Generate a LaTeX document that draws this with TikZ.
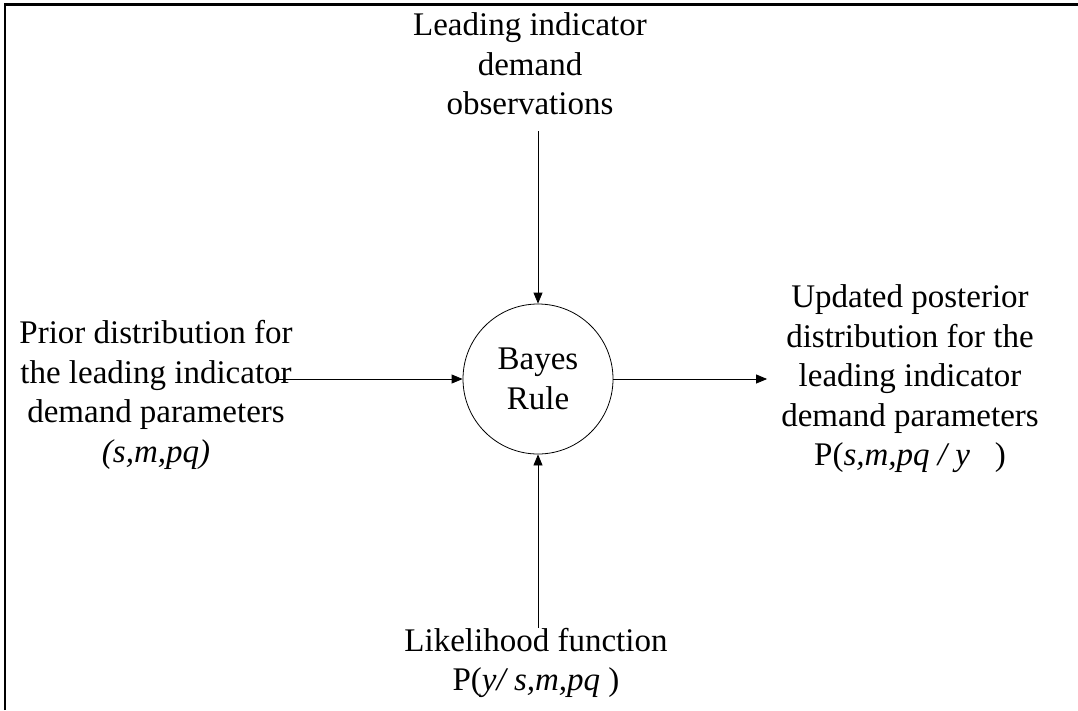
\documentclass[tikz,border=0pt]{standalone}
\usepackage{fontspec}
\setmainfont{Liberation Serif}
\usetikzlibrary{arrows.meta,positioning}
\tikzset{
  labeltext/.style={
    align=center,
    inner sep=4pt,
    font=\fontsize{33}{39.5}\selectfont
  },
  rulecircle/.style={
    circle,
    draw=black,
    line width=0.8pt,
    minimum size=150pt,
    inner sep=0pt,
    align=center,
    font=\fontsize{33}{39.5}\selectfont
  },
  arrow/.style={
    -{Triangle[length=11pt,width=9pt]},
    line width=0.8pt,
    draw=black
  }
}

\begin{document}
\begin{tikzpicture}[x=1pt,y=-1pt]
\useasboundingbox (0,0) rectangle (1078,710);
\draw[line width=2.2pt] (5,710) -- (5,4.5) -- (1078,4.5);
\node[rulecircle] (bayes) at (538,379) {Bayes\\Rule};
\node[labeltext] (obs) at (530,64) {Leading indicator\\demand\\observations};
\node[labeltext] (prior) at (156,395) {Prior distribution for\\the leading indicator\\demand parameters\\\textit{(s,m,pq)}};
\node[labeltext] (post) at (910,379) {Updated posterior\\distribution for the\\leading indicator\\demand parameters\\P(\textit{s,m,pq / y}\ \ \ )};
\node[labeltext] (like) at (536,663) {Likelihood function\\P(\textit{y/ s,m,pq} )};
\draw[arrow] ([yshift=-12pt]bayes |- obs.south) -- (bayes.north);
\draw[arrow] ([yshift=-4pt]bayes |- like.north) -- (bayes.south);
\draw[arrow] ([xshift=-22pt]prior.east |- bayes.west) -- (bayes.west);
\draw[arrow] (bayes.east) -- ([xshift=-10pt]post.west |- bayes.east);
\end{tikzpicture}
\end{document}
